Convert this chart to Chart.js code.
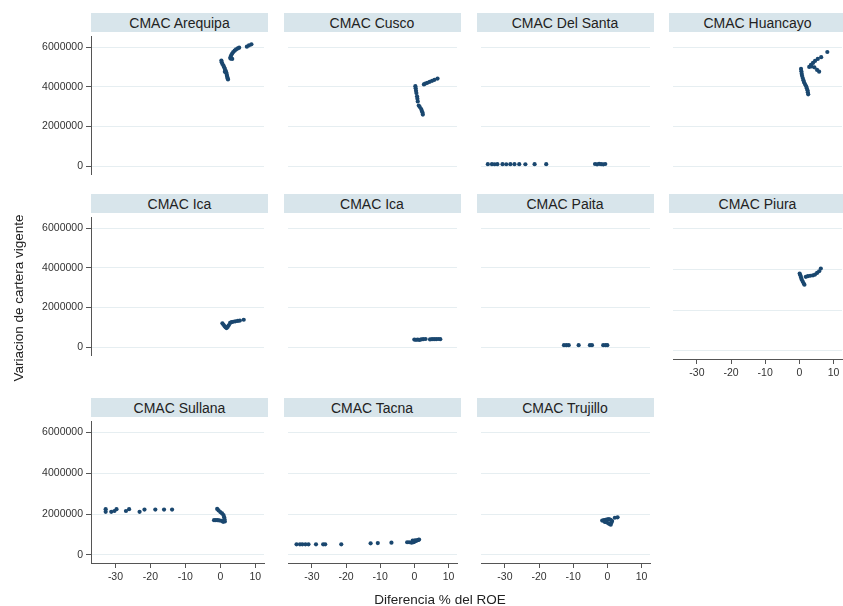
<!DOCTYPE html>
<html>
<head>
<meta charset="utf-8">
<script src="https://cdn.jsdelivr.net/npm/chart.js@4"></script>
<style>
  body { margin: 0; background: #fff; width: 843px; height: 606px; overflow: hidden; position: relative;
         font-family: "Liberation Sans", Arial, sans-serif; }
  .cab { position: absolute; background: #d8e5eb; color: #222; font-size: 14px; text-align: center;
         height: 19px; line-height: 20px; }
  canvas { position: absolute; }
  .titulo { position: absolute; color: #222; font-size: 13.5px; text-align: center; line-height: 16px; }
</style>
</head>
<body>
<script>
// Titulos de los paneles (orden: filas de izquierda a derecha)
const titulos = ["CMAC Arequipa", "CMAC Cusco", "CMAC Del Santa", "CMAC Huancayo",
                 "CMAC Ica", "CMAC Ica", "CMAC Paita", "CMAC Piura",
                 "CMAC Sullana", "CMAC Tacna", "CMAC Trujillo"];

const ticksX = [-30, -20, -10, 0, 10];
const ticksY = [0, 2000000, 4000000, 6000000];

// Datos: diferencia % del ROE (x) y variacion de cartera vigente (y)
const arequipaX = [8.9, 8.2, 7.6, 5.4, 5.0, 4.5, 4.1, 3.7, 3.4, 3.1, 2.9, 2.9, 3.4,
                   0.3, 0.4, 0.6, 0.9, 1.1, 1.3, 1.5, 1.3, 1.7, 1.8, 1.9, 2.0, 2.1, 2.2];
const arequipaY = [6140000, 6080000, 6020000, 5970000, 5930000, 5880000, 5820000, 5750000, 5670000, 5580000, 5490000, 5420000, 5400000,
                   5320000, 5240000, 5150000, 5060000, 4980000, 4900000, 4820000, 4750000, 4720000, 4640000, 4560000, 4490000, 4420000, 4370000];

const cuscoX = [6.8, 5.9, 5.2, 4.5, 3.8, 3.2, 2.8, 0.3, 0.4, 0.5, 0.6, 0.8, 0.9, 1.0, 1.3, 1.6, 2.0, 2.2, 2.4, 2.5];
const cuscoY = [4410000, 4350000, 4300000, 4250000, 4200000, 4160000, 4120000, 4030000, 3920000, 3800000, 3680000, 3520000,
                3400000, 3260000, 3050000, 2980000, 2880000, 2780000, 2700000, 2600000];

const delSantaX = [-35.0, -33.8, -33.0, -32.2, -30.7, -29.6, -28.4, -27.2, -25.8, -24.0, -21.3, -17.9,
                   -3.6, -3.0, -2.4, -1.8, -1.2, -0.6];
const delSantaY = [100000, 100000, 95000, 100000, 100000, 95000, 100000, 100000, 100000, 95000, 100000, 100000,
                   110000, 90000, 120000, 100000, 90000, 110000];

const huancayoX = [8.2, 6.4, 5.4, 4.6, 4.0, 3.4, 2.9, 3.6, 4.4, 5.2, 5.8,
                   0.5, 0.6, 0.7, 0.8, 1.0, 1.2, 1.4, 1.7, 2.0, 2.2, 2.4, 2.5, 2.6];
const huancayoY = [5750000, 5490000, 5400000, 5300000, 5200000, 5100000, 5000000, 5020000, 4980000, 4850000, 4760000,
                   4900000, 4780000, 4660000, 4550000, 4440000, 4330000, 4220000, 4120000, 4020000, 3920000, 3820000, 3720000, 3620000];

const icaX = [0.6, 0.9, 1.2, 1.5, 1.8, 2.1, 2.4, 2.8, 3.2, 3.7, 4.3, 5.0, 5.6, 6.7];
const icaY = [1200000, 1130000, 1060000, 1000000, 960000, 1020000, 1100000, 1220000, 1260000, 1280000, 1300000, 1320000, 1340000, 1380000];

const ica2X = [0.0, 0.5, 1.0, 1.5, 2.0, 2.6, 3.3, 4.6, 5.2, 5.8, 6.4, 7.0, 7.6];
const ica2Y = [380000, 370000, 380000, 360000, 390000, 400000, 410000, 390000, 400000, 400000, 400000, 410000, 400000];

const paitaX = [-12.7, -12.0, -11.3, -8.4, -5.1, -4.5, -1.2, -0.5, 0.0];
const paitaY = [100000, 100000, 100000, 100000, 100000, 100000, 100000, 100000, 100000];

const piuraX = [0.1, 0.3, 0.5, 0.7, 1.0, 1.3, 1.5, 1.9, 2.5, 3.2, 4.0, 4.6, 5.2, 5.8, 6.3];
const piuraY = [3790000, 3700000, 3600000, 3500000, 3400000, 3300000, 3240000, 3630000, 3660000, 3680000, 3700000,
                3740000, 3820000, 3900000, 4030000];

const sullanaX = [-32.8, -32.8, -31.2, -30.3, -29.7, -27.0, -26.1, -23.1, -21.7, -18.6, -16.1, -13.8,
                  -0.9, -0.5, 0.0, 0.5, 0.9, 1.1, 1.2, 1.3, -1.8, -1.3, -0.8, -0.3, 0.3, 0.8];
const sullanaY = [2240000, 2110000, 2110000, 2150000, 2240000, 2150000, 2240000, 2110000, 2220000, 2220000, 2220000, 2220000,
                  2250000, 2180000, 2100000, 2030000, 1950000, 1850000, 1750000, 1640000, 1700000, 1700000, 1700000, 1690000, 1670000, 1620000];

const tacnaX = [-34.5, -33.5, -32.8, -31.9, -31.0, -28.8, -26.7, -26.1, -21.4, -12.8, -10.7, -6.7,
                -2.1, -1.5, -0.8, -0.3, 0.0, 0.3, 0.6, 0.9, 1.2, 1.4, -0.5, 0.2];
const tacnaY = [520000, 520000, 520000, 520000, 520000, 520000, 520000, 520000, 520000, 570000, 580000, 600000,
                620000, 620000, 600000, 620000, 650000, 680000, 700000, 720000, 740000, 750000, 700000, 720000];

const trujilloX = [-1.5, -1.0, -0.5, 0.0, 0.5, -0.8, -0.3, 0.2, 0.6, 1.0, 1.2, 1.4, 1.0, 2.2, 3.0];
const trujilloY = [1680000, 1700000, 1720000, 1740000, 1760000, 1620000, 1600000, 1560000, 1520000, 1480000,
                   1580000, 1660000, 1720000, 1820000, 1840000];

const series = [[arequipaX, arequipaY], [cuscoX, cuscoY], [delSantaX, delSantaY], [huancayoX, huancayoY],
                [icaX, icaY], [ica2X, ica2Y], [paitaX, paitaY], [piuraX, piuraY],
                [sullanaX, sullanaY], [tacnaX, tacnaY], [trujilloX, trujilloY]];

// geometria de la cuadricula
const colX = [91, 283.5, 476.5, 669];
const filaY = [32, 213, 417];
const ancho = 177, alto = 146;
const fuente = { family: "'Liberation Sans', Arial, sans-serif", size: 10.5 };

function crearPanel(i) {
  const fila = Math.floor(i / 4), col = i % 4;
  const L = colX[col], T = filaY[fila];
  const conEjeY = col === 0;
  const conEjeX = fila === 2 || i === 7;
  const izq = conEjeY ? L : 0;
  const abajo = conEjeX ? 32 : 0;

  const cab = document.createElement("div");
  cab.className = "cab";
  cab.style.left = L + "px";
  cab.style.top = (T - 19) + "px";
  cab.style.width = ancho + "px";
  cab.textContent = titulos[i];
  document.body.appendChild(cab);

  const cv = document.createElement("canvas");
  cv.width = izq + ancho;
  cv.height = alto + abajo;
  cv.style.left = (L - izq) + "px";
  cv.style.top = T + "px";
  document.body.appendChild(cv);

  const [xs, ys] = series[i];
  new Chart(cv, {
    type: "scatter",
    data: {
      datasets: [{
        data: xs.map((v, k) => ({ x: v, y: ys[k] })),
        backgroundColor: "#1a476f",
        borderWidth: 0,
        pointRadius: 2.1,
      }],
    },
    options: {
      responsive: false,
      animation: false,
      layout: { padding: 0 },
      plugins: { legend: { display: false }, tooltip: { enabled: false } },
      scales: {
        x: {
          type: "linear",
          min: -37, max: 12.5,
          display: conEjeX,
          afterBuildTicks: (s) => { s.ticks = ticksX.map((v) => ({ value: v })); },
          afterFit: (s) => { s.height = abajo; s.paddingLeft = 0; s.paddingRight = 0; },
          grid: { drawOnChartArea: false, tickLength: 5, tickColor: "#555" },
          border: { color: "#555", width: 1 },
          ticks: { font: fuente, color: "#333", padding: 3, maxRotation: 0,
                   callback: (v) => String(v) },
        },
        y: {
          min: -395000, max: 6557000,
          afterBuildTicks: (s) => { s.ticks = ticksY.map((v) => ({ value: v })); },
          afterFit: (s) => { s.width = izq; s.paddingTop = 0; s.paddingBottom = 0; },
          grid: { color: "#e6eef1", drawTicks: conEjeY, tickLength: 5, tickColor: "#555" },
          border: { display: conEjeY, color: "#555", width: 1 },
          ticks: { display: conEjeY, font: fuente, color: "#333", padding: 3,
                   callback: (v) => String(v) },
        },
      },
    },
  });
}

for (let i = 0; i < titulos.length; i++) crearPanel(i);

// titulos de ejes
const tY = document.createElement("div");
tY.className = "titulo";
tY.textContent = "Variacion de cartera vigente";
tY.style.width = "300px";
tY.style.left = (19 - 150) + "px";
tY.style.top = (298 - 8) + "px";
tY.style.transform = "rotate(-90deg)";
document.body.appendChild(tY);

const tX = document.createElement("div");
tX.className = "titulo";
tX.textContent = "Diferencia % del ROE";
tX.style.width = "300px";
tX.style.left = (440 - 150) + "px";
tX.style.top = (600 - 8) + "px";
document.body.appendChild(tX);
</script>
</body>
</html>
